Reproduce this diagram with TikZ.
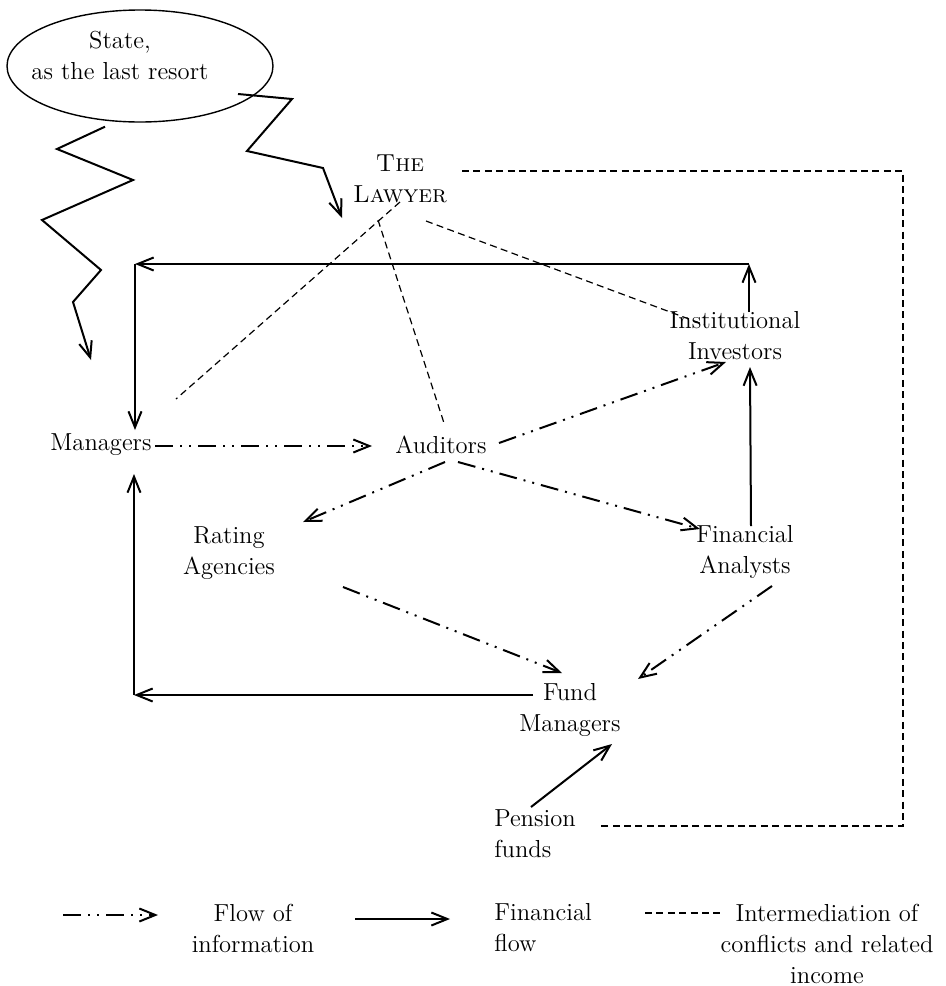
\documentclass[tikz,border=0pt]{standalone}
\usetikzlibrary{arrows.meta,shapes.geometric,calc}
\begin{document}
\begin{tikzpicture}[x=0.5pt,y=-0.5pt,
  lbl/.style={inner sep=0pt, align=center, text=black,
    font=\fontsize{12.3}{15.5}\selectfont},
  tipend/.style={-{Straight Barb[length=8pt,width=6.5pt,line width=1pt]}},
  info/.style={tipend, line width=1pt,
    dash pattern=on 9pt off 3.5pt on 1pt off 3.5pt on 1pt off 3.5pt},
  money/.style={tipend, line width=1pt},
  conflict/.style={line width=0.6pt, dash pattern=on 3.5pt off 2.2pt},
  bolt/.style={tipend, line width=1pt, line join=miter}]

% page
\fill[white] (0,0) rectangle (946,986);
\useasboundingbox (0,0) rectangle (946,986);

% actors
\node[draw, ellipse, line width=0.7pt, minimum width=133pt, minimum height=56pt,
      inner sep=0pt] (state) at (140,66) {};
\node[lbl] (statetxt) at (120,55) {State,\\as the last resort};
\node[lbl] (law)  at (400,179) {\textsc{The}\\\textsc{Lawyer}};
\node[lbl] (mgr)  at (101,445) {Managers};
\node[lbl] (aud)  at (441,445) {Auditors};
\node[lbl] (inst) at (735,336) {Institutional\\Investors};
\node[lbl] (rat)  at (229,553) {Rating\\Agencies};
\node[lbl] (fa)   at (745,552) {Financial\\Analysts};
\node[lbl] (fund) at (570,710) {Fund\\Managers};
\node[lbl, align=left] (pens) at (535,834) {Pension\\funds};

% corners of the financial loop
\coordinate (c1) at (749,264);
\coordinate (c2) at (135,264);
\coordinate (c3) at (134,695);

% the state's intervention
\draw[bolt] ($(state.south)+(-35,4)$) -- (57,149) -- (133,180) -- (42,220)
  -- (101,270) -- (73,302) -- ($(mgr)+(-10,-85)$);
\draw[bolt] ($(state)+(98,28)$) -- (292,99) -- (247,151) -- (323,168)
  -- ($(law)+(-58,39)$);

% intermediation of conflicts
\draw[conflict] ($(law)+(62,-8)$) -| (903,826) -- ($(pens)+(63,-8)$);
\draw[conflict] ($(law)+(0,23)$) -- ($(mgr)+(75,-46)$);
\draw[conflict] ($(law)+(-22,41)$) -- ($(aud)+(3,-22)$);
\draw[conflict] ($(law)+(26,42)$) -- ($(inst)+(-30,-11)$);

% financial flows
\draw[money] ($(inst)+(14,-24)$) -- (c1);
\draw[money] (c1) -- (c2);
\draw[money] (c2) -- ($(mgr)+(34,-15)$);
\draw[money] ($(fa)+(6,-26)$) -- ($(inst)+(15,31)$);
\draw[money] ($(fund)+(-37,-15)$) -- (c3);
\draw[money] (c3) -- ($(mgr)+(33,29)$);
\draw[money] ($(pens)+(-4,-27)$) -- ($(fund)+(42,34)$);

% flows of information
\draw[info] ($(mgr)+(54,1)$) -- ($(aud)+(-69,1)$);
\draw[info] ($(aud)+(58,-2)$) -- ($(inst)+(-9,26)$);
\draw[info] ($(aud)+(17,17)$) -- ($(fa)+(-45,-23)$);
\draw[info] ($(aud)+(4,17)$) -- ($(rat)+(74,-31)$);
\draw[info] ($(rat)+(114,34)$) -- ($(fund)+(-8,-37)$);
\draw[info] ($(fa)+(27,34)$) -- ($(fund)+(68,-31)$);

% legend
\coordinate (k1a) at (63,915);  \coordinate (k1b) at (158,915);
\coordinate (k2a) at (355,919); \coordinate (k2b) at (450,919);
\coordinate (k3a) at (645,913); \coordinate (k3b) at (721,913);
\draw[info] (k1a) -- (k1b);
\draw[money] (k2a) -- (k2b);
\draw[conflict] (k3a) -- (k3b);
\node[lbl] (key1) at (253,928) {Flow of\\information};
\node[lbl, align=left, anchor=west] (key2) at (494,928) {Financial\\flow};
\node[lbl] (key3) at (827,944) {Intermediation of\\conflicts and related\\income};
\end{tikzpicture}
\end{document}
